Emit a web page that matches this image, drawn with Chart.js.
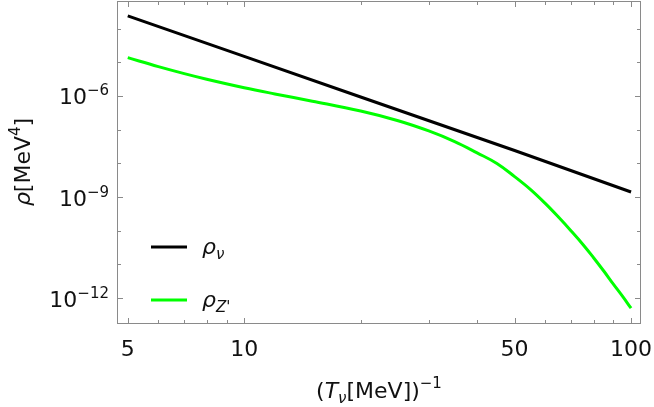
<!DOCTYPE html>
<html>
<head>
<meta charset="utf-8">
<script src="https://cdn.jsdelivr.net/npm/chart.js@4.4.0/dist/chart.umd.min.js"></script>
<style>
  html, body { margin: 0; padding: 0; background: #fff; }
  #wrap { width: 654px; height: 407px; }
</style>
</head>
<body>
<div id="wrap"><canvas id="myChart"></canvas></div>
<script>
// values (log-log)
const invTNu = [5, 10, 20, 50, 100];
const rhoNu = [2.4e-4, 1.5e-5, 9.3e-7, 2.4e-8, 1.41e-9];

const invTZ = [5, 6, 7, 8, 10, 12, 15, 20, 25, 30, 35, 40, 45, 50, 55, 60, 65, 70, 75, 80, 85, 90, 95, 100];
const rhoZ = [1.37e-5, 7.45e-6, 4.62e-6, 3.15e-6, 1.76e-6, 1.15e-6, 7.0e-7, 3.56e-7, 1.84e-7, 9.15e-8,
              4.43e-8, 2.05e-8, 9.93e-9, 4.03e-9, 1.66e-9, 6.46e-10, 2.5e-10, 9.87e-11, 3.98e-11, 1.58e-11,
              6.37e-12, 2.6e-12, 1.14e-12, 5.0e-13];

const xMajor = [5, 10, 50, 100];
const xMinor = [6, 7, 8, 9, 20, 30, 40, 60, 70, 80, 90];
const yMajorExp = [-6, -9, -12];
const yMinorExp = [-4, -5, -7, -8, -10, -11];

const FONT = "'DejaVu Sans'";

function drawRich(ctx, parts, x, y, align) {
  let w = 0;
  parts.forEach(p => {
    ctx.font = (p.italic ? "italic " : "") + (p.size || 22) + "px " + FONT;
    p.w = ctx.measureText(p.t).width;
    w += p.w;
  });
  let cx = align === "right" ? x - w : align === "center" ? x - w / 2 : x;
  parts.forEach(p => {
    ctx.font = (p.italic ? "italic " : "") + (p.size || 22) + "px " + FONT;
    ctx.fillText(p.t, cx, y + (p.dy || 0));
    cx += p.w;
  });
}

const framePlugin = {
  id: "frame",
  afterDraw(chart) {
    const ctx = chart.ctx;
    const a = chart.chartArea;
    const xs = chart.scales.x, ys = chart.scales.y;
    ctx.save();
    ctx.strokeStyle = "#8a8a8a";
    ctx.lineWidth = 1;
    ctx.strokeRect(a.left + 0.5, a.top + 0.5, a.right - a.left - 1, a.bottom - a.top - 1);

    ctx.beginPath();
    const xt = (v, len) => {
      const px = Math.round(xs.getPixelForValue(v)) + 0.5;
      ctx.moveTo(px, a.bottom); ctx.lineTo(px, a.bottom - len);
      ctx.moveTo(px, a.top); ctx.lineTo(px, a.top + len);
    };
    const yt = (v, len) => {
      const py = Math.round(ys.getPixelForValue(v)) + 0.5;
      ctx.moveTo(a.left, py); ctx.lineTo(a.left + len, py);
      ctx.moveTo(a.right, py); ctx.lineTo(a.right - len, py);
    };
    xMajor.forEach(v => xt(v, 6));
    xMinor.forEach(v => xt(v, 4));
    yMajorExp.forEach(e => yt(Math.pow(10, e), 6));
    yMinorExp.forEach(e => yt(Math.pow(10, e), 4));
    ctx.stroke();

    ctx.fillStyle = "#111";
    ctx.textBaseline = "alphabetic";
    xMajor.forEach(v => {
      drawRich(ctx, [{ t: String(v) }], xs.getPixelForValue(v), 356, "center");
    });
    yMajorExp.forEach(e => {
      const py = ys.getPixelForValue(Math.pow(10, e));
      drawRich(ctx, [{ t: "10" }, { t: "\u2212" + (-e), size: 15, dy: -9 }], 109, py + 8.5, "right");
    });

    // axis titles
    drawRich(ctx, [
      { t: "(" }, { t: "T", italic: true }, { t: "\u03bd", italic: true, size: 15, dy: 5 },
      { t: "[MeV])" }, { t: "\u22121", size: 15, dy: -10 }
    ], (a.left + a.right) / 2, 398, "center");

    ctx.save();
    ctx.translate(30, 162);
    ctx.rotate(-Math.PI / 2);
    drawRich(ctx, [{ t: "\u03c1", italic: true }, { t: "[MeV" }, { t: "4", size: 15, dy: -10 }, { t: "]" }], 0, 0, "center");
    ctx.restore();

    // legend
    const items = [
      { color: chart.data.datasets[0].borderColor, y: 247, sub: "\u03bd" },
      { color: chart.data.datasets[1].borderColor, y: 300, sub: "Z'" }
    ];
    items.forEach(it => {
      ctx.strokeStyle = it.color;
      ctx.lineWidth = 3;
      ctx.beginPath();
      ctx.moveTo(151, it.y); ctx.lineTo(187, it.y);
      ctx.stroke();
      drawRich(ctx, [{ t: "\u03c1", italic: true }, { t: it.sub, italic: true, size: 15, dy: 5 }], 202, it.y + 7, "left");
    });
    ctx.restore();
  }
};

const ctx = document.getElementById("myChart").getContext("2d");
const myChart = new Chart(ctx, {
  type: "line",
  data: {
    datasets: [
      {
        label: "\u03c1\u03bd",
        data: invTNu.map((x, i) => ({ x: x, y: rhoNu[i] })),
        borderColor: "#000000",
        borderWidth: 3,
        pointRadius: 0,
        fill: false,
      },
      {
        label: "\u03c1Z'",
        data: invTZ.map((x, i) => ({ x: x, y: rhoZ[i] })),
        borderColor: "#00ff00",
        borderWidth: 3,
        pointRadius: 0,
        fill: false,
        tension: 0.4,
      },
    ],
  },
  options: {
    responsive: true,
    maintainAspectRatio: false,
    animation: false,
    layout: { padding: { left: 117, top: 1, right: 13, bottom: 83 } },
    scales: {
      x: { type: "logarithmic", display: false, min: 4.69, max: 106.1 },
      y: { type: "logarithmic", display: false, min: 1.7e-13, max: 6.6e-4 },
    },
    plugins: { legend: { display: false }, tooltip: { enabled: false } },
  },
  plugins: [framePlugin],
});
</script>
</body>
</html>
